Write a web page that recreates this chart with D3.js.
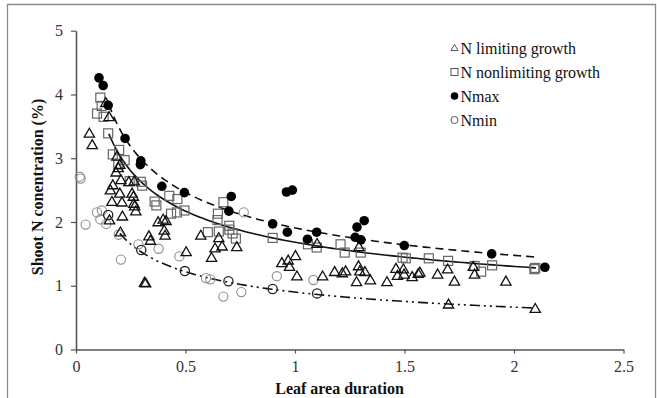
<!DOCTYPE html>
<html><head><meta charset="utf-8">
<script src="https://cdn.jsdelivr.net/npm/d3@7"></script>
<style>
html,body{margin:0;padding:0;background:#fff;}
svg{display:block;font-family:"Liberation Serif","Times New Roman",serif;}
</style></head>
<body><svg id="chart" width="657" height="398"></svg>
<script>
// ---- data (Leaf area duration, Shoot N %) ----
const xTicks = [0, 0.5, 1, 1.5, 2, 2.5];
const yTicks = [0, 1, 2, 3, 4, 5];
const legendLabels = ["N limiting growth", "N nonlimiting growth", "Nmax", "Nmin"];

const nLimiting = [
 [0.061,3.39],[0.074,3.21],[0.136,3.87],[0.151,3.65],[0.157,2.50],[0.168,2.58],[0.164,2.32],[0.153,2.03],
 [0.183,2.78],[0.187,3.03],[0.193,2.85],[0.200,2.90],[0.205,2.66],[0.200,2.45],[0.210,2.31],[0.212,2.09],
 [0.203,1.84],[0.241,2.63],[0.256,2.45],[0.262,2.40],[0.264,2.29],[0.268,2.25],[0.273,2.17],[0.266,2.64],
 [0.313,1.05],[0.318,1.04],[0.333,1.78],[0.340,1.71],[0.375,2.00],[0.398,2.04],[0.403,1.87],[0.407,1.79],
 [0.411,2.02],[0.503,1.53],[0.570,1.79],[0.619,1.44],[0.635,1.59],[0.652,1.75],[0.667,1.62],[0.734,1.61],
 [0.940,1.36],[0.969,1.40],[0.975,1.30],[1.002,1.47],[1.009,1.15],[1.101,1.66],[1.126,1.15],[1.181,1.22],
 [1.216,1.20],[1.231,1.23],[1.281,1.06],[1.290,1.31],[1.296,1.23],[1.319,1.22],[1.344,1.09],[1.292,1.61],
 [1.420,1.06],[1.461,1.27],[1.468,1.16],[1.495,1.26],[1.498,1.18],[1.535,1.14],[1.563,1.19],[1.570,1.21],
 [1.651,1.18],[1.697,1.26],[1.728,1.07],[1.814,1.30],[1.820,1.18],[1.963,1.07],[1.701,0.71],[2.097,0.64]
];
const nNonlimiting = [
 [0.111,3.95],[0.117,3.82],[0.096,3.70],[0.126,3.65],[0.147,3.39],[0.168,3.06],[0.197,3.13],[0.193,2.90],
 [0.222,2.97],[0.245,2.64],[0.296,2.63],[0.302,2.57],[0.359,2.32],[0.367,2.26],[0.426,2.41],[0.463,2.36],
 [0.434,2.13],[0.461,2.15],[0.495,2.18],[0.602,1.84],[0.646,2.03],[0.648,2.13],[0.673,2.31],[0.652,1.85],
 [0.700,1.94],[0.700,1.88],[0.715,1.82],[0.730,1.74],[0.898,1.75],[1.059,1.65],[1.099,1.60],[1.208,1.65],
 [1.227,1.52],[1.300,1.52],[1.491,1.44],[1.506,1.43],[1.611,1.43],[1.699,1.39],[1.820,1.31],[1.850,1.22],
 [1.900,1.32],[2.093,1.26],[2.097,1.28]
];
const nMax = [
 [0.105,4.26],[0.124,4.14],[0.147,3.83],[0.224,3.31],[0.296,2.96],[0.294,2.90],[0.392,2.56],[0.495,2.46],
 [0.709,2.40],[0.698,2.17],[0.898,1.97],[0.961,2.47],[0.988,2.50],[0.965,1.84],[1.057,1.73],[1.099,1.84],
 [1.275,1.76],[1.301,1.72],[1.283,1.92],[1.316,2.02],[1.499,1.63],[1.898,1.50],[2.141,1.29]
];
const nMinGrey = [
 [0.017,2.71],[0.021,2.68],[0.044,1.96],[0.096,2.15],[0.111,2.04],[0.118,2.18],[0.138,1.97],[0.195,1.80],
 [0.205,1.41],[0.285,1.65],[0.377,1.58],[0.472,1.46],[0.594,1.12],[0.613,1.10],[0.673,0.83],[0.755,0.90],
 [0.766,2.15],[0.917,1.15],[1.084,1.09]
];
const nMinDark = [
 [0.147,2.11],[0.298,1.56],[0.497,1.23],[0.696,1.07],[0.898,0.95],[1.101,0.88]
];
// fitted power curves y = a * x^-b : [a, b, xStart, xEnd]
const fitNmax = [1.907, 0.369, 0.15, 2.10];
const fitNonlimiting = [1.682, 0.368, 0.15, 2.10];
const fitNmin = [0.900, 0.438, 0.20, 2.10];

// ---- drawing ----
const svg = d3.select("#chart");
const x = d3.scaleLinear().domain([0, 2.5]).range([76, 623.5]);
const y = d3.scaleLinear().domain([0, 5]).range([349.5, 30.7]);

// frame
svg.append("path").attr("d","M7.5,398 V4.5 H655.5 V398")
  .attr("fill","none").attr("stroke","#8a8a8a").attr("stroke-width",1.3);

// axes
const axisCol = "#555";
const gx = svg.append("g").attr("transform",`translate(0,${y(0)})`)
  .call(d3.axisBottom(x).tickValues(xTicks).tickFormat(d3.format("")).tickSize(4).tickSizeOuter(0).tickPadding(7));
const gy = svg.append("g").attr("transform",`translate(${x(0)},0)`)
  .call(d3.axisLeft(y).tickValues(yTicks).tickFormat(d3.format("d")).tickSize(5).tickSizeOuter(0).tickPadding(8));
[gx, gy].forEach(g => {
  g.select(".domain").attr("stroke", axisCol).attr("stroke-width", 1.6);
  g.selectAll(".tick line").attr("stroke", axisCol).attr("stroke-width", 1.2);
  g.selectAll(".tick text").attr("fill","#333").attr("font-size",16)
    .attr("font-family",'"Liberation Serif","Times New Roman",serif');
});

// curves
function fitLine(f, dash) {
  const [a, b, x0, x1] = f;
  const pts = d3.range(0, 101).map(i => { const xv = x0 + (x1 - x0) * i / 100; return [xv, a * Math.pow(xv, -b)]; });
  svg.append("path").attr("d", d3.line().x(d => x(d[0])).y(d => y(d[1]))(pts))
    .attr("fill","none").attr("stroke","#111").attr("stroke-width",1.6)
    .attr("stroke-dasharray", dash);
}
fitLine(fitNmax, "8,5");
fitLine(fitNonlimiting, null);
fitLine(fitNmin, "10,4,2,4,2,4");

// markers
const tri = d3.symbol().type(d3.symbolTriangle).size(46);
svg.append("g").selectAll("path").data(nMinGrey).join("circle")
  .attr("cx", d => x(d[0])).attr("cy", d => y(d[1])).attr("r", 4.6)
  .attr("fill","none").attr("stroke","#8c8c8c").attr("stroke-width",1.1);
svg.append("g").selectAll("rect").data(nNonlimiting).join("rect")
  .attr("x", d => x(d[0]) - 4.5).attr("y", d => y(d[1]) - 4.5).attr("width", 9).attr("height", 9)
  .attr("fill","none").attr("stroke","#666").attr("stroke-width",1.2);
svg.append("g").selectAll("path").data(nLimiting).join("path")
  .attr("d", tri).attr("transform", d => `translate(${x(d[0])},${y(d[1])+0.8})`)
  .attr("fill","none").attr("stroke","#111").attr("stroke-width",1.3);
svg.append("g").selectAll("circle").data(nMinDark).join("circle")
  .attr("cx", d => x(d[0])).attr("cy", d => y(d[1])).attr("r", 4.6)
  .attr("fill","none").attr("stroke","#222").attr("stroke-width",1.3);
svg.append("g").selectAll("circle").data(nMax).join("circle")
  .attr("cx", d => x(d[0])).attr("cy", d => y(d[1])).attr("r", 4.8)
  .attr("fill","#000");

// legend
const lg = svg.append("g");
const rowsY = [48, 72, 96, 120];
legendLabels.forEach((t, i) => {
  const cy = rowsY[i], cx = 454.5;
  if (i === 0) lg.append("path").attr("d", d3.symbol().type(d3.symbolTriangle).size(22)())
      .attr("transform",`translate(${cx},${cy+0.5})`).attr("fill","none").attr("stroke","#444").attr("stroke-width",0.9);
  if (i === 1) lg.append("rect").attr("x",cx-3.5).attr("y",cy-3.5).attr("width",7).attr("height",7)
      .attr("fill","none").attr("stroke","#444").attr("stroke-width",0.9);
  if (i === 2) lg.append("circle").attr("cx",cx).attr("cy",cy).attr("r",3.8).attr("fill","#000");
  if (i === 3) lg.append("circle").attr("cx",cx).attr("cy",cy).attr("r",3.5).attr("fill","none").attr("stroke","#444").attr("stroke-width",0.9);
  lg.append("text").attr("x", 460.5).attr("y", cy + 5.5).attr("font-size", 16).attr("fill","#111").text(t);
});

// axis titles
svg.append("text").attr("x", 339.5).attr("y", 394).attr("text-anchor","middle")
  .attr("font-size",16).attr("font-weight","bold").attr("fill","#111").text("Leaf area duration");
svg.append("text").attr("transform","translate(43,187) rotate(-90)").attr("text-anchor","middle")
  .attr("font-size",16).attr("font-weight","bold").attr("fill","#111").text("Shoot N conentration (%)");
</script></body></html>
